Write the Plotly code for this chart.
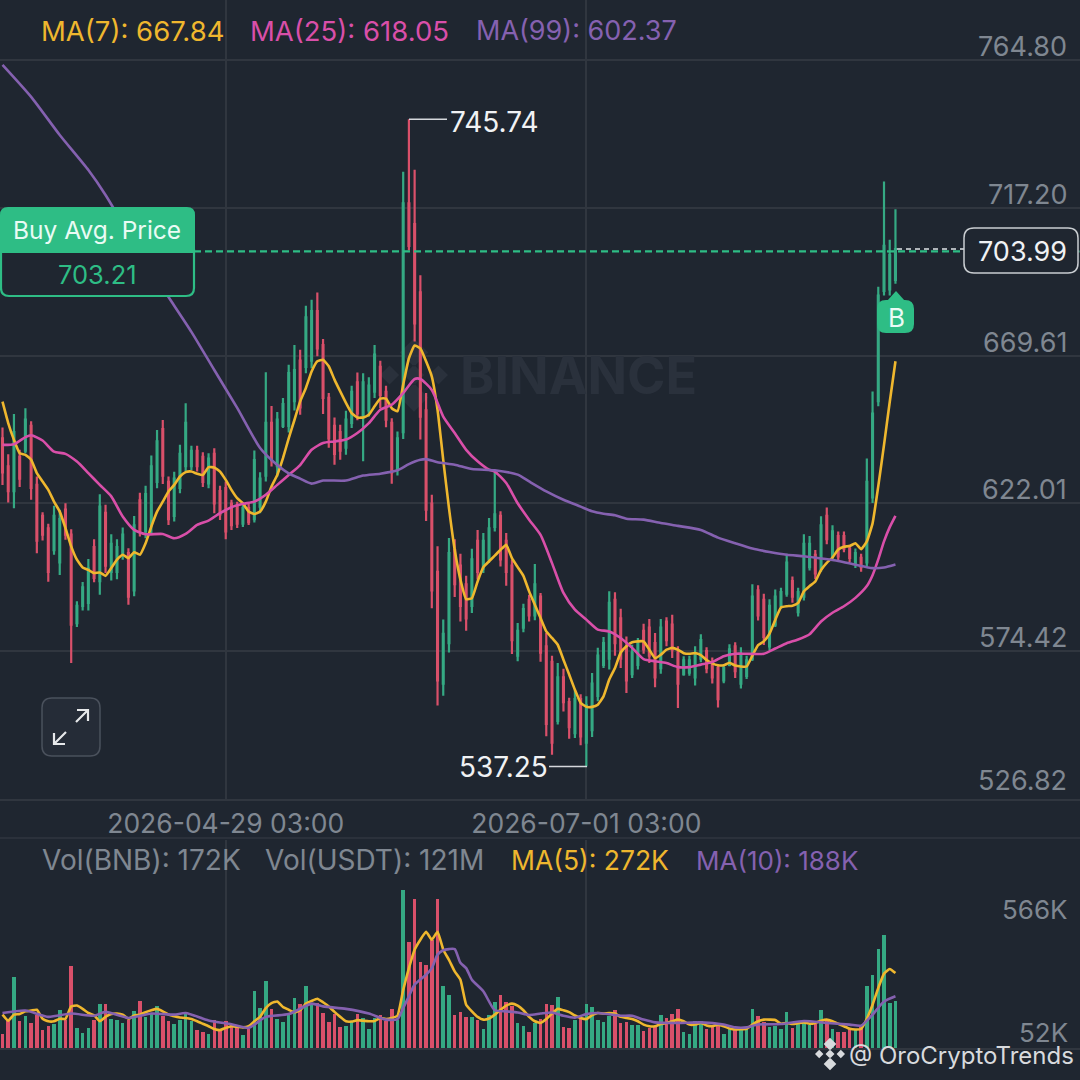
import pandas as pd
import plotly.graph_objects as go

# OHLC, one row of values per daily candle
opens = [643, 634, 626, 637, 639, 647, 628, 618, 614, 607,
         603, 620, 612, 583.5, 589, 590, 608, 597, 619, 600,
         600, 606, 606, 594, 623, 613, 615, 629, 646, 629,
         618, 627, 634, 634, 639, 637, 628.5, 638, 626, 627,
         622, 621, 615.5, 620.5, 617, 621, 631, 648, 634, 647,
         647, 655, 668, 666, 668, 684, 673, 656, 647, 645,
         640, 648, 661, 650, 652, 658, 666, 658, 648, 633,
         645, 718.7, 712, 690, 652, 622, 600, 564, 577, 607,
         602, 596, 589, 610, 601, 604, 614.5, 618, 610, 602,
         573, 582, 591, 586, 592, 576, 571, 552, 566, 558,
         548, 559, 545, 549, 560, 570, 572, 591, 585, 576,
         567, 570, 581, 582, 577, 569, 584, 583, 574, 567,
         567.5, 566, 572, 574.5, 571, 569, 565, 570, 576, 564,
         566.5, 572, 594, 591, 576, 583, 589, 593, 597, 587,
         592, 601.5, 605.5, 601, 618, 605, 611.5, 611.5, 607.5, 602.5,
         604.5, 603, 624, 655, 690.5, 691, 694]
highs = [646.5, 637.9, 650.8, 639.3, 652.7, 648.5, 630.7, 619.2, 615.5, 621.3,
         620, 622.1, 613.7, 590.5, 596.7, 604.1, 610.5, 625, 621.6, 612.1,
         610.5, 614.3, 607.6, 618, 625.5, 627.7, 637.5, 645.7, 648.9, 630.7,
         632.2, 640.9, 654.3, 640.6, 640.6, 638.5, 638.2, 639.8, 627.7, 629.1,
         623.2, 622.6, 622.1, 622.1, 639.1, 632.1, 664.3, 653.4, 651.5, 656,
         666.7, 673.1, 671.5, 685.7, 687.6, 690, 675, 657.6, 649.7, 647.4,
         651.9, 659.9, 664.2, 664, 662.7, 673.1, 668, 659.9, 649.5, 645.2,
         728.9, 745.74, 729.5, 695.5, 657.6, 624.8, 608.2, 584.6, 610.9, 610.5,
         605.8, 598.7, 607.4, 613.5, 612.5, 617.3, 632.3, 619.5, 612.5, 603.9,
         583.5, 589.7, 592.6, 602.5, 593.2, 580.3, 573, 570.6, 568.8, 559.4,
         562, 560.6, 559.9, 567.4, 575.5, 579, 593.7, 593.4, 588.1, 579.2,
         576.5, 578.7, 583.3, 584.8, 580.3, 584.8, 585.4, 586.2, 576, 572.8,
         573, 576, 579.9, 575.7, 572.4, 570.1, 570.1, 576.7, 577.3, 575.7,
         573, 596, 595.7, 592.9, 591.2, 594.3, 594.9, 605.8, 598.5, 594.9,
         612.1, 611.5, 607, 617.9, 620.7, 615, 613, 613, 608.7, 607.5,
         605.8, 636.5, 658.1, 691.8, 725.7, 707, 716.8]
lows = [628, 622.3, 620.5, 627.3, 638.2, 623.2, 606, 610.1, 596.8, 605.5,
        599, 610.3, 570.6, 582.2, 587.5, 587.5, 596.6, 592.6, 599.6, 597.2,
        597.6, 603.9, 589.4, 592.1, 611.4, 610.8, 612.5, 626.9, 628.3, 615.1,
        616.2, 625.3, 632.3, 632.8, 632.3, 627.3, 626.9, 618.9, 616.7, 610.5,
        613.5, 614.1, 614.4, 615.1, 615.9, 618.9, 629.1, 633.9, 630.7, 646.3,
        644.9, 652, 650.6, 664, 665.6, 669.4, 650.8, 640, 634.5, 636.1,
        637.7, 646.3, 648.8, 635.6, 650, 656, 652.7, 646.6, 628.4, 631,
        642.8, 703.5, 674.2, 642.6, 616.4, 588.3, 556.9, 560.1, 574, 591.9,
        584, 581, 586.7, 597.5, 599.6, 602.8, 613, 601.7, 595.5, 573.5,
        571.2, 580.5, 584, 584.4, 571, 547, 541.1, 550.8, 555, 546.2,
        546.5, 544.1, 537.25, 546.8, 558.3, 569, 568.5, 573, 569, 561,
        565.8, 568.5, 573.6, 570.6, 562.8, 567.2, 576, 572.2, 556.1, 566.5,
        566.5, 563.4, 570.9, 567.3, 564, 556.3, 564.1, 569.6, 565.8, 562.4,
        565.5, 571.3, 584.3, 576.4, 574.7, 582.2, 588.2, 592, 590, 585.6,
        590.8, 600.4, 597.7, 600, 608.9, 603.5, 603.2, 606.3, 603.1, 601.2,
        600, 601.7, 622.2, 653.3, 689, 689, 692.8]
closes = [632, 626, 645, 630, 649, 627, 610, 612, 600, 618,
          617, 612, 583, 589, 595, 601, 598, 621, 602, 609,
          608, 612, 592, 615, 613, 625, 634, 642, 631, 617,
          630, 638, 648, 639, 634, 629, 636.5, 622, 618.5, 613,
          615, 615.5, 620.5, 616, 636, 630, 648, 636, 649, 654,
          664, 665, 653, 682, 684, 672, 656, 643, 638, 639,
          649, 658, 651, 661, 660, 670, 657, 649, 632, 643,
          718.7, 705, 680, 650, 620, 594, 565, 580, 606, 596,
          589, 585, 604, 600, 610, 614, 618.5, 604, 600, 578,
          581, 588, 586, 596, 574, 551, 545, 566, 558, 550,
          559, 547, 557, 564, 573, 577, 590, 577, 572, 565,
          574, 577, 575, 573, 566, 582, 578, 575, 564, 571.5,
          571.5, 573, 578, 569, 566, 559, 569, 575, 568, 573,
          571.5, 592, 586, 579, 589, 592, 593.5, 603, 592, 593.5,
          609, 609, 599.5, 615, 610.5, 613, 605, 607.5, 604.5, 606,
          601.5, 629, 651, 689, 705, 702, 703.99]

# moving averages, read per candle (MA7) or at the listed candle numbers
ma7 = [654.8, 647.9, 642.5, 638.2, 637.7, 636.1, 631.8, 629.1, 626.4, 622.6,
       619.4, 614.1, 608.2, 603.9, 601.4, 600.6, 599.6, 599.8, 598.7, 601.2,
       603.9, 605.5, 604.4, 606.3, 605.5, 609.2, 614.6, 619.4, 622.6, 625.9,
       628, 630.7, 632.1, 632.3, 631.6, 631.2, 633.7, 633.6, 632.3, 629.6,
       626.4, 623.7, 622.1, 619.4, 618.6, 619.4, 622.6, 627.5, 631.2, 636.6,
       643, 648.9, 654.9, 659.2, 664.5, 667.8, 668.3, 666.2, 661.9, 658.1,
       654.4, 651.1, 649.7, 649.7, 650.6, 653.3, 655.8, 655.8, 652.7, 651.7,
       660.3, 668.8, 672.9, 672, 667.8, 662.9, 652.2, 636, 620.5, 607.1,
       597.5, 591.2, 591.5, 596.9, 601.5, 603.4, 605.2, 607.1, 608.7, 604.4,
       601.5, 598.7, 593.7, 589.4, 585.1, 580.8, 578.7, 576.5, 571.7, 566.9,
       562, 557.8, 556.5, 556.5, 557.2, 559.9, 565.3, 569, 574, 576,
       577.3, 577.6, 577.6, 574.9, 572.2, 573.3, 574.9, 575.5, 574.9, 573.8,
       573.6, 573.8, 573.2, 571.6, 570.5, 569.9, 569.9, 570.7, 569.8, 569.5,
       569.5, 573, 576.4, 577.6, 580.1, 584.5, 588.5, 588.9, 589.1, 590,
       593.7, 595.4, 596.9, 600.6, 602.9, 604.6, 607.2, 608.1, 608.3, 609.2,
       607.3, 609.8, 615.6, 627.6, 640.9, 654.7, 667.84]
ma25_idx = [0, 2, 4, 5, 7, 9, 11, 13, 15, 17, 19, 21, 23, 25, 28, 30, 32, 34, 36, 38,
            40, 42, 44, 46, 48, 50, 52, 54, 56, 58, 60, 62, 64, 66, 68, 70, 72, 73, 75, 77,
            79, 81, 83, 85, 86, 88, 90, 92, 94, 96, 98, 100, 102, 104, 106, 108, 110, 112, 114, 116,
            118, 120, 122, 124, 126, 128, 130, 133, 135, 137, 139, 141, 143, 145, 147, 149, 151, 152, 153, 154,
            155, 156]
ma25 = [640.9, 641.1, 643.4, 644, 642.3, 638.7, 638, 635.5, 631.8, 628, 624.3, 617.8, 613.5, 612.1, 612.2, 610.8, 612.2, 615.1, 616.5, 618.9,
        620.8, 621.9, 622.6, 624.8, 628, 631.2, 634.4, 639.3, 641.5, 642, 642.6, 644.7, 647.9, 652.2, 653.8, 657.6, 662.1, 662.1, 658.6, 650,
        644.7, 639.3, 635.6, 632.9, 632.3, 628.6, 622.1, 616.8, 611.9, 602.8, 593.2, 587.8, 584.6, 581.4, 580.8, 578.7, 575.5, 571.9, 571.2, 570.6,
        569.3, 569.3, 570.1, 570.9, 572.8, 573.6, 573.6, 573.6, 575.3, 577, 578.2, 579.9, 584, 586.8, 588.9, 591.6, 595.4, 598.9, 604, 609.8,
        614.4, 618.05]
ma99_idx = [0, 5, 10, 15, 18, 25, 29, 33, 37, 41, 45, 48, 50, 52, 54, 56, 60, 63, 66, 69,
            71, 73, 74, 76, 79, 82, 86, 90, 92, 95, 98, 101, 103, 105, 107, 109, 112, 115, 118, 122,
            125, 128, 131, 134, 137, 140, 143, 146, 149, 152, 154, 156]
ma99 = [763.3, 753, 740.7, 729.4, 721.4, 699.8, 688.5, 677.3, 665, 652.8, 639.9, 634.4, 631.7, 630, 628.4, 629.4, 629.4, 631, 631.6, 632.7,
        634.7, 636.1, 636.3, 635.3, 634.5, 633.1, 632.7, 631.3, 629.1, 625.9, 623.2, 621, 619.5, 618.7, 618.2, 617.1, 616.8, 615.7, 614.8, 613.5,
        611, 609.2, 607.5, 606.4, 605.5, 605, 604.3, 603.5, 602.3, 601.2, 601.4, 602.37]

# volume in thousands of BNB
volumes = [51, 103, 258, 99, 115, 91, 121, 67, 81, 88,
           137, 103, 299, 73, 54, 74, 103, 161, 161, 105,
           100, 91, 103, 136, 171, 111, 127, 151, 115, 97,
           88, 103, 132, 97, 67, 57, 51, 102, 60, 99,
           85, 79, 48, 69, 206, 145, 242, 142, 105, 96,
           121, 183, 160, 225, 157, 163, 127, 93, 125, 77,
           79, 93, 125, 109, 70, 109, 120, 97, 143, 103,
           575, 384, 542, 312, 303, 393, 542, 225, 192, 119,
           132, 113, 113, 103, 70, 120, 168, 191, 167, 151,
           91, 81, 59, 91, 105, 160, 155, 185, 77, 73,
           103, 115, 161, 150, 103, 93, 117, 138, 90, 96,
           82, 85, 60, 73, 81, 121, 110, 122, 140, 59,
           51, 97, 99, 69, 83, 81, 50, 69, 67, 69,
           69, 140, 116, 93, 75, 81, 69, 132, 73, 90,
           97, 82, 88, 139, 98, 69, 59, 57, 73, 67,
           75, 226, 264, 359, 409, 163, 172]
vol_ma5 = [121, 99, 121, 123, 133, 136, 139, 106, 97, 97,
           106, 106, 151, 154, 142, 127, 119, 97, 113, 123,
           125, 121, 106, 118, 121, 130, 137, 142, 133, 121,
           115, 111, 109, 105, 97, 88, 79, 69, 65, 73,
           79, 77, 75, 79, 97, 113, 145, 163, 169, 149,
           139, 130, 137, 161, 171, 179, 166, 151, 131, 113,
           97, 96, 101, 99, 97, 98, 109, 105, 109, 117,
           211, 290, 357, 393, 422, 393, 422, 357, 320, 278,
           248, 157, 133, 113, 103, 107, 121, 139, 154, 161,
           154, 137, 113, 97, 91, 105, 125, 142, 137, 130,
           118, 109, 105, 119, 127, 125, 127, 125, 113, 109,
           105, 97, 85, 79, 79, 87, 91, 97, 103, 97,
           85, 85, 91, 82, 79, 85, 79, 71, 67, 68,
           70, 85, 97, 103, 103, 102, 88, 91, 87, 90,
           93, 88, 91, 99, 103, 97, 88, 79, 70, 67,
           69, 106, 157, 218, 270, 287, 272]
vol_ma10_idx = [0, 4, 8, 12, 16, 18, 22, 26, 30, 32, 36, 40, 43, 46, 50, 54, 56, 60, 64, 67,
                69, 70, 71, 72, 74, 75, 76, 77, 78, 79, 80, 81, 82, 84, 86, 88, 90, 92, 94, 96,
                98, 100, 102, 104, 108, 110, 112, 114, 118, 122, 126, 128, 130, 132, 136, 140, 144, 148, 150, 152,
                154, 156]
vol_ma10 = [127, 136, 113, 125, 117, 131, 109, 125, 121, 127, 100, 86, 73, 113, 123, 161, 151, 142, 125, 103,
            105, 145, 188, 230, 266, 290, 339, 355, 359, 359, 309, 290, 248, 206, 137, 133, 129, 120, 125, 129,
            117, 110, 123, 127, 117, 117, 103, 93, 91, 93, 85, 75, 75, 85, 87, 98, 91, 85, 81, 121,
            169, 188]

price_ticks = [526.82, 574.42, 622.01, 669.61, 717.20, 764.80]
price_labels = ["526.82", "574.42", "622.01", "669.61", "717.20", "764.80"]
date_ticks = ["2026-04-29 03:00", "2026-07-01 03:00"]
vol_ticks = [52, 566]
vol_labels = ["52K", "566K"]
buy_avg = 703.21
last_price = 703.99

BG = "#1f2630"
GRID = "#30363f"
GREEN = "#35a983"
RED = "#d9506a"
BADGE = "#2ebd85"
YELLOW = "#efb72e"
PINK = "#d94fa9"
PURPLE = "#8561b0"
GREY = "#7f8791"
FONT = "Inter"
W = 1080

dates = pd.date_range("2026-03-21 03:00", periods=len(closes), freq="D")
start = dates[0] - pd.Timedelta(days=0.437)
end = dates[0] + pd.Timedelta(days=188.24)


def px(x):
    return x / W


def py(y):
    return 1 - y / W


def box_path(x0, y0, x1, y1, r, top=True, bottom=True):
    # rounded rectangle in picture pixels, converted to paper coordinates
    pts = []
    if top:
        pts += [f"M {px(x0)} {py(y0 + r)}", f"Q {px(x0)} {py(y0)} {px(x0 + r)} {py(y0)}",
                f"L {px(x1 - r)} {py(y0)}", f"Q {px(x1)} {py(y0)} {px(x1)} {py(y0 + r)}"]
    else:
        pts += [f"M {px(x0)} {py(y0)}", f"L {px(x1)} {py(y0)}"]
    if bottom:
        pts += [f"L {px(x1)} {py(y1 - r)}", f"Q {px(x1)} {py(y1)} {px(x1 - r)} {py(y1)}",
                f"L {px(x0 + r)} {py(y1)}", f"Q {px(x0)} {py(y1)} {px(x0)} {py(y1 - r)}"]
    else:
        pts += [f"L {px(x1)} {py(y1)}", f"L {px(x0)} {py(y1)}"]
    return " ".join(pts) + " Z"


def diamond(cx, cy, r):
    return (f"M {px(cx - r)} {py(cy)} L {px(cx)} {py(cy - r)} "
            f"L {px(cx + r)} {py(cy)} L {px(cx)} {py(cy + r)} Z")


def logo_path(cx, cy, r):
    return " ".join([diamond(cx, cy, r * 0.3), diamond(cx - r * 0.72, cy, r * 0.28),
                     diamond(cx + r * 0.72, cy, r * 0.28), diamond(cx, cy - r * 0.66, r * 0.42),
                     diamond(cx, cy + r * 0.66, r * 0.42)])


def label(x, y, text, color=GREY, size=27, anchor="left"):
    return dict(xref="paper", yref="paper", x=px(x), y=py(y), text=text, showarrow=False,
                xanchor=anchor, yanchor="middle", align=anchor,
                font=dict(family=FONT, size=size, color=color), borderpad=0)


fig = go.Figure()

fig.add_trace(go.Candlestick(x=dates, open=opens, high=highs, low=lows, close=closes,
                             increasing=dict(line=dict(color=GREEN, width=2.2), fillcolor=GREEN),
                             decreasing=dict(line=dict(color=RED, width=2.2), fillcolor=RED),
                             whiskerwidth=0, showlegend=False, xaxis="x", yaxis="y"))
fig.add_trace(go.Scatter(x=dates, y=ma7, mode="lines", line=dict(color=YELLOW, width=2.6, shape="spline", smoothing=0.4),
                         showlegend=False, xaxis="x", yaxis="y"))
fig.add_trace(go.Scatter(x=dates[ma25_idx], y=ma25, mode="lines", line=dict(color=PINK, width=2.6, shape="spline", smoothing=0.6),
                         showlegend=False, xaxis="x", yaxis="y"))
fig.add_trace(go.Scatter(x=dates[ma99_idx], y=ma99, mode="lines", line=dict(color=PURPLE, width=2.6, shape="spline", smoothing=0.6),
                         showlegend=False, xaxis="x", yaxis="y"))

bar_colors = [GREEN if c >= o else RED for o, c in zip(opens, closes)]
fig.add_trace(go.Bar(x=dates, y=volumes, marker=dict(color=bar_colors, line=dict(width=0)),
                     width=86400000 * 0.62, showlegend=False, xaxis="x2", yaxis="y2"))
fig.add_trace(go.Scatter(x=dates, y=vol_ma5, mode="lines", line=dict(color=YELLOW, width=2.6, shape="spline", smoothing=0.4),
                         showlegend=False, xaxis="x2", yaxis="y2"))
fig.add_trace(go.Scatter(x=dates[vol_ma10_idx], y=vol_ma10, mode="lines", line=dict(color=PURPLE, width=2.6, shape="spline", smoothing=0.6),
                         showlegend=False, xaxis="x2", yaxis="y2"))

shapes = [
    # watermark logo behind the candles
    dict(type="path", path=logo_path(414, 375, 34), fillcolor="#2a313c", line=dict(width=0), xref="paper", yref="paper", layer="below"),
    # separators
    dict(type="line", xref="paper", yref="paper", x0=0, x1=1, y0=py(838), y1=py(838), line=dict(color=GRID, width=1.5)),
    # buy average and last price lines
    dict(type="line", xref="paper", yref="y", x0=px(194), x1=px(964), y0=buy_avg, y1=buy_avg, line=dict(color=BADGE, width=2.4, dash="7px 4px")),
    dict(type="line", xref="paper", yref="y", x0=px(897), x1=px(964), y0=last_price, y1=last_price, line=dict(color="#dfe3e6", width=1.4, dash="5px 4px")),
    dict(type="line", xref="paper", yref="y", x0=px(1078), x1=1, y0=buy_avg, y1=buy_avg, line=dict(color="#2f6f5c", width=2, dash="6px 5px")),
    # high and low markers
    dict(type="line", xref="paper", yref="y", x0=px(409), x1=px(447), y0=745.74, y1=745.74, line=dict(color="#d5d8dc", width=1.5)),
    dict(type="line", xref="paper", yref="y", x0=px(549), x1=px(587), y0=537.25, y1=537.25, line=dict(color="#d5d8dc", width=1.5)),
    # buy average box
    dict(type="path", path=box_path(1, 250, 194, 296, 8, top=False), fillcolor=BG, line=dict(color=BADGE, width=2.2), xref="paper", yref="paper"),
    dict(type="path", path=box_path(0, 207, 195, 253, 8, bottom=False), fillcolor=BADGE, line=dict(width=0), xref="paper", yref="paper"),
    # last price box
    dict(type="path", path=box_path(964, 228, 1078, 273, 10), fillcolor=BG, line=dict(color="#c9cdd1", width=1.5), xref="paper", yref="paper"),
    # B marker
    dict(type="path", path=box_path(877, 300, 914, 333, 9), fillcolor=BADGE, line=dict(width=0), xref="paper", yref="paper"),
    dict(type="path", path=f"M {px(887)} {py(301)} L {px(896)} {py(291)} L {px(905)} {py(301)} Z", fillcolor=BADGE, line=dict(width=0), xref="paper", yref="paper"),
    # expand button
    dict(type="path", path=box_path(42, 698, 100, 756, 10), fillcolor="#252c37", line=dict(color="#4a515c", width=1.5), xref="paper", yref="paper"),
    dict(type="path", path=(f"M {px(54)} {py(744)} L {px(66)} {py(732)} M {px(54)} {py(733)} L {px(54)} {py(744)} L {px(65)} {py(744)} "
                            f"M {px(88)} {py(710)} L {px(76)} {py(722)} M {px(77)} {py(710)} L {px(88)} {py(710)} L {px(88)} {py(721)}"),
         line=dict(color="#e6e8ea", width=2.2), xref="paper", yref="paper"),
    # watermark logo at the bottom
    dict(type="path", path=logo_path(830, 1054, 15), fillcolor="#d8dadd", line=dict(width=0), xref="paper", yref="paper"),
]

annotations = [
    label(40, 31, "MA(7): 667.84", YELLOW, 27.5),
    label(249, 31, "MA(25): 618.05", PINK, 27.5),
    label(475, 31, "MA(99): 602.37", PURPLE, 27),
    label(41, 860, "Vol(BNB): 172K", GREY, 28),
    label(264, 860, "Vol(USDT): 121M", GREY, 28),
    label(510, 860, "MA(5): 272K", YELLOW, 26.5),
    label(695, 860, "MA(10): 188K", PURPLE, 26),
    label(97, 230, "Buy Avg. Price", "#e9fbf4", 24.5, "center"),
    label(97, 274, "703.21", BADGE, 25.5, "center"),
    label(1022, 251, "703.99", "#f0f2f4", 27, "center"),
    label(540, 122, "745.74", "#f0f2f4", 28, "right"),
    label(549, 767, "537.25", "#f0f2f4", 28, "right"),
    label(896, 317, "B", "#eafbf5", 26, "center"),
    label(459, 375, "<b>BINANCE</b>", "#2a313c", 52),
    label(848, 1055, "@ OroCryptoTrends", "#d8dadd", 24),
    label(1069, 909, vol_labels[1], GREY, 26, "right"),
    label(1069, 1032, vol_labels[0], GREY, 26, "right"),
]
for tick, text in zip(price_ticks, price_labels):
    # the lowest label sits inside the plot, the others stay just above their lines
    shift = 0 if tick == price_ticks[0] else -5
    annotations.append(dict(xref="paper", yref="y", x=px(1069), y=tick, text=text, showarrow=False,
                            xanchor="right", yanchor="bottom", yshift=shift,
                            font=dict(family=FONT, size=27, color=GREY)))

fig.update_layout(
    width=1080, height=1080, autosize=False,
    margin=dict(l=0, r=0, t=0, b=0),
    paper_bgcolor=BG, plot_bgcolor=BG,
    showlegend=False, dragmode=False, bargap=0, boxgap=0.78,
    shapes=shapes, annotations=annotations,
    xaxis=dict(domain=[0, 1], range=[start, end], type="date", anchor="y",
               rangeslider=dict(visible=False),
               tickvals=date_ticks, ticktext=date_ticks, showgrid=True, gridcolor=GRID, gridwidth=1.5,
               ticks="", ticklabelstandoff=0, zeroline=False, showline=True, linecolor=GRID, linewidth=1.5,
               tickfont=dict(family=FONT, size=26.5, color=GREY)),
    yaxis=dict(domain=[py(799), 1], range=[526.82, 784.19], anchor="x", side="right",
               tickvals=price_ticks, showticklabels=False, ticks="", showgrid=True, gridcolor=GRID, gridwidth=1.5, zeroline=False),
    xaxis2=dict(domain=[0, 1], range=[start, end], type="date", anchor="y2", matches="x",
                tickvals=date_ticks, showticklabels=False, showgrid=True, gridcolor=GRID, gridwidth=1.5,
                ticks="", zeroline=False, showline=True, linecolor=GRID, linewidth=1.5),
    yaxis2=dict(domain=[py(1048), py(840)], range=[0, 755], anchor="x2", side="right",
                tickvals=vol_ticks, showticklabels=False, ticks="", showgrid=False, zeroline=False),
)

# page margin off so the figure fills the window
fig.write_html("out.html", config=dict(displayModeBar=False),
               post_script="document.body.style.margin='0';document.body.style.background='#1f2630';")
